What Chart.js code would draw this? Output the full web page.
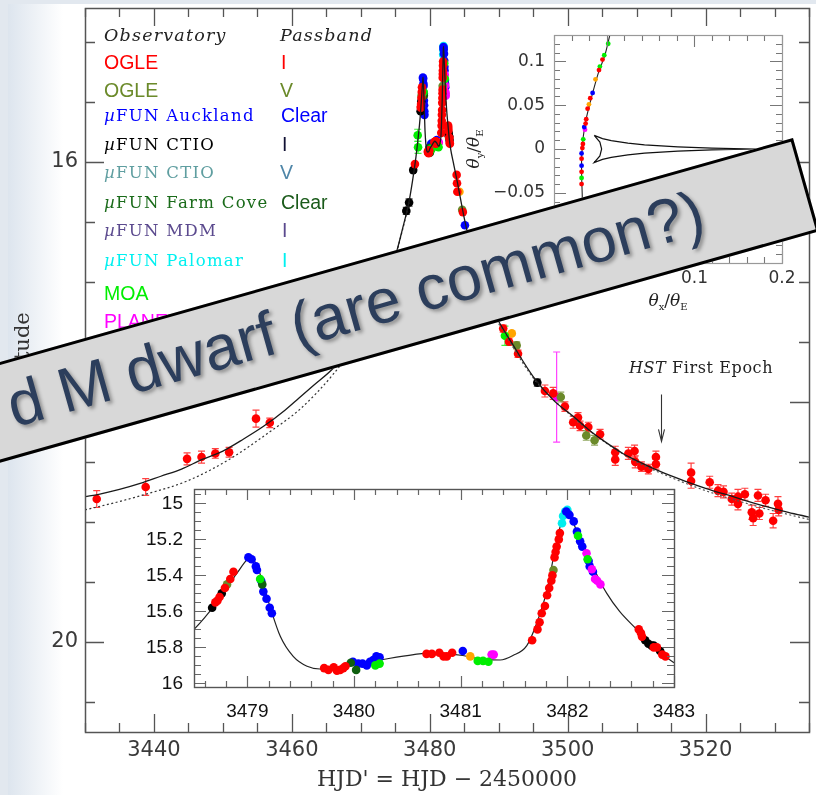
<!DOCTYPE html>
<html>
<head>
<meta charset="utf-8">
<script src="https://cdn.jsdelivr.net/npm/chart.js"></script>
<style>
html,body{margin:0;padding:0;width:816px;height:795px;overflow:hidden;background:#e2e8ef;}
#page{position:absolute;left:8px;top:4px;width:808px;height:791px;background:linear-gradient(to right,#dde5ee 0px,#ffffff 55px);}
canvas{position:absolute;}
#cMain{left:0;top:0;}
#cInset{left:110px;top:480px;}
#cTraj{left:460px;top:20px;}
.t{position:absolute;white-space:nowrap;line-height:1;transform:translateY(-50%);}
.hd{font-family:'DejaVu Serif';font-style:italic;font-size:17.5px;letter-spacing:1.2px;color:#222;}
.ser{font-family:'DejaVu Serif';font-size:16.5px;letter-spacing:1.3px;}
.sans{font-family:'Liberation Sans';font-size:19.5px;}
.ann{font-family:'DejaVu Serif';font-size:16px;letter-spacing:0.6px;color:#222;}
.th{font-family:'DejaVu Serif';font-size:17px;color:#222;}
.th sub{font-size:10px;font-style:normal;}
#banner{position:absolute;left:-307px;top:138px;width:1100px;height:97px;box-sizing:border-box;border:3.5px solid #000;background:#d8d8d8;transform-origin:100% 0;transform:rotate(-15.77deg);font-family:'Liberation Sans';font-size:63px;line-height:63px;padding:11px 104px 0 0;text-align:right;color:#2c3e5c;text-shadow:2px 3px 4px rgba(0,0,0,0.35);white-space:nowrap;overflow:hidden;}
</style>
</head>
<body>
<div id="page"></div>
<canvas id="cMain" width="816" height="795"></canvas>
<canvas id="cInset" width="600" height="250"></canvas>
<canvas id="cTraj" width="340" height="300"></canvas>

<div class="t hd" style="left:104px;top:36px">Observatory</div>
<div class="t hd" style="left:280px;top:36px">Passband</div>
<div class="t sans" style="left:104px;top:63px;color:#ff0000">OGLE</div>
<div class="t sans" style="left:281px;top:63px;color:#ff0000">I</div>
<div class="t sans" style="left:104px;top:91px;color:#6b8a2a">OGLE</div>
<div class="t sans" style="left:280px;top:91px;color:#6b8a2a">V</div>
<div class="t ser" style="left:104px;top:116px;color:#0000ff"><i>µ</i>FUN Auckland</div>
<div class="t sans" style="left:281px;top:116px;color:#0000ff">Clear</div>
<div class="t ser" style="left:104px;top:145px;color:#000000"><i>µ</i>FUN CTIO</div>
<div class="t sans" style="left:282px;top:145px;color:#111133">I</div>
<div class="t ser" style="left:104px;top:173px;color:#5f9ea0"><i>µ</i>FUN CTIO</div>
<div class="t sans" style="left:280px;top:173px;color:#4f86a8">V</div>
<div class="t ser" style="left:104px;top:203px;color:#1a6b1a"><i>µ</i>FUN Farm Cove</div>
<div class="t sans" style="left:281px;top:203px;color:#1a5a1a">Clear</div>
<div class="t ser" style="left:104px;top:231px;color:#5b4a8e"><i>µ</i>FUN MDM</div>
<div class="t sans" style="left:282px;top:231px;color:#5b4a8e">I</div>
<div class="t ser" style="left:104px;top:261px;color:#00f0f0"><i>µ</i>FUN Palomar</div>
<div class="t sans" style="left:282px;top:261px;color:#00f0f0">I</div>
<div class="t sans" style="left:104px;top:294px;color:#00ee00">MOA</div>
<div class="t sans" style="left:104px;top:322px;color:#ff00ff">PLANET</div>

<div class="t ann" style="left:629px;top:368px"><i>HST</i> First Epoch</div>
<div class="t th" style="left:668px;top:302px;transform:translate(-50%,-50%)"><i>θ</i><sub>x</sub>/<i>θ</i><sub>E</sub></div>
<div class="t th" style="left:475px;top:149px;transform:translate(-50%,-50%) rotate(-90deg)"><i>θ</i><sub>y</sub>/<i>θ</i><sub>E</sub></div>

<div id="banner">d M dwarf (are common?)</div>

<script>
// ---------- tick labels ----------
const mainXTicks = [3440, 3460, 3480, 3500, 3520];
const mainYTicks = [16, 18, 20];
const insetXTicks = [3479, 3480, 3481, 3482, 3483];
const insetYTicks = [15, 15.2, 15.4, 15.6, 15.8, 16];
const trajXTicks = [0, 0.1, 0.2];
const trajYTicks = [-0.1, -0.05, 0, 0.05, 0.1];

// ---------- model light curve ----------
const modelT = [3430,3432,3435,3438,3441,3444,3447,3450,3453,3456,3459,3461,3463,3466,3468,3470,3472,3474,3475,3476,3477,3477.5,3478,3478.5,3478.6,3478.7,3478.8,3478.9,3479.0,3479.03,3479.1,3479.2,3479.31,3479.43,3479.56,3479.68,3479.87,3479.99,3480.24,3480.56,3480.74,3481.02,3481.2,3481.37,3481.49,3481.62,3481.71,3481.81,3481.88,3481.95,3481.99,3482.09,3482.18,3482.28,3482.37,3482.49,3482.65,3482.81,3483.0,3483.5,3484,3485,3486,3487,3488,3489,3490.2,3492,3495,3498,3500.8,3503,3505.6,3508,3510,3513.4,3517,3520,3524,3528,3532,3535];
const modelMag = [18.79,18.77,18.73,18.68,18.62,18.56,18.48,18.41,18.31,18.2,18.07,17.97,17.87,17.72,17.58,17.41,17.2,16.95,16.79,16.57,16.33,16.16,15.96,15.70,15.635,15.56,15.475,15.39,15.31,15.295,15.36,15.55,15.74,15.85,15.905,15.92,15.915,15.895,15.87,15.84,15.83,15.845,15.865,15.87,15.845,15.79,15.67,15.48,15.27,15.09,15.04,15.155,15.27,15.40,15.50,15.60,15.70,15.80,15.885,16.03,16.17,16.47,16.72,16.92,17.08,17.22,17.35,17.52,17.79,17.99,18.12,18.23,18.34,18.43,18.49,18.58,18.66,18.72,18.79,18.86,18.92,18.96];
const altT1 = [3430,3435,3438.8,3444.8,3450.9,3456.8,3461.2,3466,3470,3474,3476,3477];
const altMag1 = [18.90,18.83,18.77,18.66,18.48,18.25,18.06,17.77,17.45,16.98,16.58,16.34];
const altT2 = [3490,3495,3500,3505,3510,3515,3520,3525,3530,3535];
const altMag2 = [17.35,17.80,18.09,18.32,18.50,18.63,18.74,18.83,18.91,18.98];

// ---------- photometry [HJD', mag, (err)] ----------
const ogleIPeak = [[3478.70,15.55],[3478.72,15.54],[3478.74,15.52],[3478.79,15.47],[3478.84,15.42],[3478.87,15.38],
 [3479.72,15.915],[3479.76,15.925],[3479.81,15.91],[3479.84,15.93],[3479.87,15.925],[3479.90,15.915],[3479.92,15.905],
 [3480.68,15.836],[3480.73,15.836],[3480.80,15.83],[3480.84,15.85],[3480.87,15.85],[3480.92,15.83],
 [3481.67,15.76],[3481.72,15.70],[3481.74,15.66],[3481.76,15.61],[3481.79,15.57],[3481.81,15.51],[3481.83,15.47],[3481.85,15.43],[3481.86,15.40],[3481.88,15.30],[3481.89,15.27],[3481.90,15.24],[3481.92,15.20],[3481.93,15.165],
 [3482.67,15.70],[3482.69,15.72],[3482.70,15.74],[3482.81,15.80],[3482.84,15.80],[3482.89,15.84],[3482.92,15.85]];
const ogleIWing = [[3431.7,18.81,0.07],[3438.8,18.71,0.07],[3444.8,18.475,0.05],[3446.9,18.46,0.05],[3448.9,18.43,0.04],[3450.9,18.42,0.04],[3454.8,18.14,0.07],[3456.8,18.175,0.04],
 [3477.85,16.02,0],[3483.9,16.11,0],[3483.95,16.18,0],[3484.0,16.25,0],[3484.8,16.42,0],
 [3490.65,17.39,0.03],[3491.5,17.5,0.03],[3492.8,17.6,0.03],[3496.7,17.91,0.05],[3497.9,17.93,0.05],[3499.6,18.04,0.04],[3500.8,18.17,0.05],[3501.5,18.13,0.04],[3501.8,18.2,0.04],[3503.0,18.21,0.04],[3504.7,18.27,0.04],
 [3506.9,18.42,0.05],[3506.9,18.48,0.05],[3508.8,18.43,0.05],[3509.7,18.41,0.05],[3509.8,18.5,0.05],[3510.7,18.54,0.04],[3511.7,18.56,0.04],[3512.8,18.46,0.05],[3512.8,18.52,0.04],
 [3517.9,18.59,0.08],[3517.9,18.66,0.06],[3520.6,18.67,0.05],[3521.8,18.74,0.05],[3522.6,18.75,0.05],[3523.8,18.81,0.05],[3524.7,18.79,0.06],[3524.7,18.85,0.05],[3525.7,18.77,0.05],
 [3526.7,18.92,0.06],[3526.9,18.97,0.06],[3527.6,18.78,0.05],[3527.8,18.93,0.05],[3528.7,18.82,0.05],[3529.8,18.99,0.06],[3530.5,18.85,0.06],[3530.6,18.9,0.05]];
const ogleV = [[3478.81,15.45],[3481.87,15.37],[3484.7,16.4,0],[3492.6,17.53,0.03],[3499.0,17.96,0.04],[3502.7,18.28,0.04],[3503.9,18.32,0.04]];
const auckland = [[3479.01,15.30],[3479.04,15.31],[3479.08,15.35],[3479.09,15.37],[3479.13,15.43],[3479.15,15.49],[3479.18,15.53],[3479.21,15.58],[3479.23,15.61],
 [3479.99,15.88],[3480.04,15.89],[3480.08,15.89],[3480.12,15.90],[3480.15,15.88],[3480.18,15.87],[3480.21,15.85],[3480.24,15.855],[3481.02,15.82],
 [3481.99,15.045],[3482.02,15.064],[3482.06,15.10],[3482.09,15.157],[3482.12,15.21],[3482.14,15.24],[3482.20,15.32],[3482.21,15.35],[3482.24,15.38],[3485.1,16.53,0]];
const ctioI = [[3478.67,15.58],[3478.76,15.50],[3482.73,15.76],[3482.76,15.78],[3482.79,15.79],[3482.81,15.79],[3482.87,15.82],
 [3476.6,16.41,0.03],[3477.0,16.34,0.03],[3477.6,16.07,0.02],[3495.6,17.84,0.03]];
const farmCove = [[3479.14,15.45],[3479.97,15.885],[3480.02,15.925]];
const palomar = [[3481.95,15.11],[3481.96,15.07],[3481.98,15.045],[3482.0,15.036]];
const moa = [[3479.12,15.42],[3480.20,15.90],[3480.24,15.89],[3481.16,15.875],[3481.21,15.875],[3481.26,15.88],[3482.10,15.18],[3482.19,15.31],
 [3478.25,15.78,0.05],[3478.3,15.88,0.05],[3490.9,17.45,0.08]];
const planet = [[3481.29,15.84],[3481.31,15.84],[3482.18,15.277],[3482.23,15.366],[3482.26,15.42],[3482.28,15.43],[3482.31,15.45],[3498.4,17.96,0.375]];
const otherObs = [[3481.09,15.85],[3484.3,16.25,0],[3491.9,17.43,0]];

// ---------- source trajectory & caustic (theta/thetaE) ----------
const trajX = [0.006,0.0034,-0.0023,-0.0099,-0.0174,-0.0231,-0.027,-0.0288,-0.0288,-0.0282,-0.0275,-0.026];
const trajY = [0.14,0.13,0.107,0.0863,0.0596,0.0368,0.014,-0.0088,-0.0316,-0.0505,-0.08,-0.13];
const causticX = [-0.0145,-0.005,0.005,0.024,0.043,0.081,0.12,0.17,0.12,0.081,0.043,0.024,0.005,-0.005,-0.0145,-0.008,-0.006,-0.008,-0.0145];
const causticY = [0.0155,0.0118,0.0095,0.0068,0.0047,0.0024,0.0009,0,-0.0009,-0.0024,-0.0047,-0.0068,-0.0095,-0.0118,-0.0155,-0.008,0,0.008,0.0155];
const trajOgleI = [[-0.005,0.102],[-0.009,0.09],[-0.019,0.058],[-0.022,0.046],[-0.0236,0.034],[-0.0243,0.029],[-0.0274,0.0057],[-0.028,0.001],[-0.0289,-0.011],[-0.0289,-0.026],[-0.0289,-0.04]];
const trajMOA = [[0.0015,0.12],[-0.003,0.107],[-0.008,0.094],[-0.027,0.011],[-0.0289,-0.033]];
const trajAuck = [[-0.0163,0.064],[-0.0259,0.025],[-0.0289,-0.005],[-0.0289,-0.019]];
const trajOther = [[-0.013,0.0795],[-0.0205,0.051]];
const trajPlanet = [[-0.025,0.022]];

const hstArrow = {t: 3513.6, from: 17.94, to: 18.33};

// ---------- helpers ----------
const pts = a => a.map(p => ({x: p[0], y: p[1]}));
const errs = a => a.map(p => p[2] || 0);
const zip = (xs, ys) => xs.map((x, i) => ({x: x, y: ys[i]}));
function stepValues(min, max, step) {
  const out = [];
  for (let k = Math.ceil(min / step - 1e-9); k * step <= max + 1e-9; k++) out.push(+(k * step).toFixed(10));
  return out;
}
const fmtMinus = v => (v < 0 ? '\u2212' + String(+(-v).toFixed(4)) : String(+v.toFixed(4)));

const framePlugin = {
  id: 'frame',
  beforeDraw(chart, args, o) {
    if (!o || !o.fill) return;
    const a = chart.chartArea, c = chart.ctx;
    c.save(); c.fillStyle = o.fill; c.fillRect(a.left, a.top, a.right - a.left, a.bottom - a.top); c.restore();
  },
  afterDraw(chart, args, o) {
    const a = chart.chartArea, c = chart.ctx, xs = chart.scales.x, ys = chart.scales.y;
    c.save();
    c.strokeStyle = o.tickColor; c.lineWidth = o.tickWidth;
    const draw = (scale, tk, horiz) => {
      stepValues(scale.min, scale.max, tk.minor).forEach(v => {
        const major = Math.abs(v / tk.major - Math.round(v / tk.major)) < 1e-6;
        const len = major ? tk.majorLen : tk.minorLen;
        const p = Math.round(scale.getPixelForValue(v)) + 0.5;
        c.beginPath();
        if (horiz) { c.moveTo(p, a.bottom); c.lineTo(p, a.bottom - len); c.moveTo(p, a.top); c.lineTo(p, a.top + len); }
        else { c.moveTo(a.left, p); c.lineTo(a.left + len, p); c.moveTo(a.right, p); c.lineTo(a.right - len, p); }
        c.stroke();
      });
    };
    draw(xs, o.x, true); draw(ys, o.y, false);
    c.strokeStyle = o.frameColor; c.lineWidth = o.frameWidth;
    c.strokeRect(Math.round(a.left) + 0.5, Math.round(a.top) + 0.5, Math.round(a.right - a.left), Math.round(a.bottom - a.top));
    c.restore();
  }
};

const errPlugin = {
  id: 'errbars',
  beforeDatasetsDraw(chart) {
    const c = chart.ctx, xs = chart.scales.x, ys = chart.scales.y, a = chart.chartArea;
    c.save(); c.beginPath(); c.rect(a.left, a.top, a.right - a.left, a.bottom - a.top); c.clip();
    chart.data.datasets.forEach(ds => {
      if (!ds.errors) return;
      c.strokeStyle = ds.backgroundColor; c.globalAlpha = 0.75; c.lineWidth = 1.2;
      ds.data.forEach((p, i) => {
        const e = ds.errors[i]; if (!e) return;
        const x = xs.getPixelForValue(p.x), y1 = ys.getPixelForValue(p.y - e), y2 = ys.getPixelForValue(p.y + e);
        c.beginPath(); c.moveTo(x, y1); c.lineTo(x, y2);
        c.moveTo(x - 3.5, y1); c.lineTo(x + 3.5, y1); c.moveTo(x - 3.5, y2); c.lineTo(x + 3.5, y2);
        c.stroke();
      });
    });
    c.restore();
  }
};

const arrowPlugin = {
  id: 'hstArrow',
  afterDatasetsDraw(chart) {
    const c = chart.ctx, xs = chart.scales.x, ys = chart.scales.y;
    const x = Math.round(xs.getPixelForValue(hstArrow.t)) + 0.5, y1 = ys.getPixelForValue(hstArrow.from), y2 = ys.getPixelForValue(hstArrow.to);
    c.save(); c.strokeStyle = '#333'; c.lineWidth = 1.1;
    c.beginPath(); c.moveTo(x, y1); c.lineTo(x, y2); c.moveTo(x - 3, y2 - 12); c.lineTo(x, y2); c.lineTo(x + 3, y2 - 12); c.stroke();
    c.restore();
  }
};

const baseOpts = {responsive: false, animation: false, devicePixelRatio: 1, events: [],
  plugins: {legend: {display: false}, tooltip: {enabled: false}}};

function axis(o) {
  return {
    type: 'linear', min: o.min, max: o.max, reverse: !!o.reverse, position: o.pos,
    grid: {display: false, drawTicks: false}, border: {display: false},
    afterBuildTicks: s => { s.ticks = o.ticks.map(v => ({value: v})); },
    afterFit: s => { if (o.w !== undefined) s.width = o.w; if (o.h !== undefined) s.height = o.h;
      s.paddingTop = 0; s.paddingBottom = 0; s.paddingLeft = 0; s.paddingRight = 0; },
    ticks: {autoSkip: false, maxRotation: 0, minRotation: 0, padding: o.pad, color: o.color,
      font: {family: o.family, size: o.size}, callback: o.fmt || (v => String(v))},
    title: o.title || {display: false}
  };
}

const C = {ogleI: '#ff0000', ogleV: '#6b8a2a', auck: '#0000ff', ctio: '#000000', farm: '#0f5f0f', pal: '#00eeee', moa: '#00ee00', planet: '#ff00ff', other: '#ffa500'};
const series = [
  [ogleIPeak.concat(ogleIWing), C.ogleI], [ogleV, C.ogleV], [moa, C.moa], [ctioI, C.ctio], [farmCove, C.farm],
  [otherObs, C.other], [planet, C.planet], [auckland, C.auck], [palomar, C.pal]
];

// ---------- main chart ----------
const mainSets = series.map(s => ({data: pts(s[0]), errors: errs(s[0]), backgroundColor: s[1], borderWidth: 0, pointRadius: 4.3, order: 2}));
mainSets.push({data: zip(modelT, modelMag), showLine: true, pointRadius: 0, borderColor: '#1a1a1a', borderWidth: 1.3, cubicInterpolationMode: 'monotone', order: 0});
mainSets.push({data: zip(altT1, altMag1), showLine: true, pointRadius: 0, borderColor: '#333', borderWidth: 1.2, borderDash: [2, 2.5], cubicInterpolationMode: 'monotone', order: 1});
mainSets.push({data: zip(altT2, altMag2), showLine: true, pointRadius: 0, borderColor: '#555', borderWidth: 1.2, borderDash: [2, 2.5], cubicInterpolationMode: 'monotone', order: 1});

new Chart(document.getElementById('cMain'), {
  type: 'scatter',
  data: {datasets: mainSets},
  options: Object.assign({}, baseOpts, {
    layout: {padding: {top: 8, right: 7, left: 0, bottom: 0}},
    scales: {
      x: axis({min: 3430, max: 3535, pos: 'bottom', ticks: mainXTicks, h: 63, pad: 6, color: '#3a3a3a', family: "'DejaVu Sans'", size: 21,
        title: {display: true, text: "HJD' = HJD \u2212 2450000", color: '#333', font: {family: "'DejaVu Serif'", size: 22}, padding: {top: 0, bottom: 2}}}),
      y: axis({min: 14.72, max: 20.75, reverse: true, pos: 'left', ticks: mainYTicks, w: 85, pad: 7, color: '#3a3a3a', family: "'DejaVu Sans'", size: 21,
        title: {display: true, text: 'Magnitude', color: '#333', font: {family: "'DejaVu Serif'", size: 21}, padding: {top: 11, bottom: 0}}})
    },
    plugins: Object.assign({}, baseOpts.plugins, {frame: {tickColor: '#555', tickWidth: 1.3, frameColor: '#555', frameWidth: 1.5,
      x: {minor: 5, major: 20, minorLen: 9, majorLen: 18}, y: {minor: 0.5, major: 2, minorLen: 10, majorLen: 19}}})
  }),
  plugins: [framePlugin, errPlugin, arrowPlugin]
});

// ---------- zoom inset ----------
const insetSets = series.map(s => ({data: pts(s[0]), backgroundColor: s[1], borderWidth: 0, pointRadius: 4.3, order: 1}));
insetSets.push({data: zip(modelT, modelMag), showLine: true, pointRadius: 0, borderColor: '#222', borderWidth: 1.2, cubicInterpolationMode: 'monotone', order: 5});

new Chart(document.getElementById('cInset'), {
  type: 'scatter',
  data: {datasets: insetSets},
  options: Object.assign({}, baseOpts, {
    layout: {padding: {top: 9, right: 36, left: 0, bottom: 0}},
    scales: {
      x: axis({min: 3478.5, max: 3483, pos: 'bottom', ticks: insetXTicks, h: 43, pad: 13, color: '#111', family: "'Liberation Sans'", size: 19}),
      y: axis({min: 14.92, max: 16.02, reverse: true, pos: 'left', ticks: insetYTicks, w: 84, pad: 11, color: '#111', family: "'Liberation Sans'", size: 19})
    },
    plugins: Object.assign({}, baseOpts.plugins, {frame: {fill: '#ffffff', tickColor: '#666', tickWidth: 1.2, frameColor: '#555', frameWidth: 1.4,
      x: {minor: 0.2, major: 1, minorLen: 6, majorLen: 11}, y: {minor: 0.05, major: 0.2, minorLen: 7, majorLen: 12}}})
  }),
  plugins: [framePlugin]
});

// ---------- trajectory inset ----------
const trajSets = [
  {data: zip(causticX, causticY), showLine: true, pointRadius: 0, borderColor: '#111', borderWidth: 1.2, tension: 0, order: 6},
  {data: zip(trajX, trajY), showLine: true, pointRadius: 0, borderColor: '#222', borderWidth: 1.1, tension: 0.3, order: 5},
  {data: pts(trajOgleI), backgroundColor: C.ogleI, borderWidth: 0, pointRadius: 2.4, order: 1},
  {data: pts(trajMOA), backgroundColor: C.moa, borderWidth: 0, pointRadius: 2.4, order: 1},
  {data: pts(trajAuck), backgroundColor: C.auck, borderWidth: 0, pointRadius: 2.4, order: 1},
  {data: pts(trajOther), backgroundColor: C.other, borderWidth: 0, pointRadius: 2.4, order: 1},
  {data: pts(trajPlanet), backgroundColor: C.planet, borderWidth: 0, pointRadius: 2.4, order: 1}
];
new Chart(document.getElementById('cTraj'), {
  type: 'scatter',
  data: {datasets: trajSets},
  options: Object.assign({}, baseOpts, {
    layout: {padding: {top: 15, right: 18, left: 0, bottom: 0}},
    scales: {
      x: axis({min: -0.0604, max: 0.2, pos: 'bottom', ticks: trajXTicks, h: 57, pad: 5, color: '#333', family: "'DejaVu Sans'", size: 17, fmt: fmtMinus}),
      y: axis({min: -0.13, max: 0.13, pos: 'left', ticks: trajYTicks, w: 94, pad: 9, color: '#333', family: "'DejaVu Sans'", size: 17, fmt: fmtMinus})
    },
    plugins: Object.assign({}, baseOpts.plugins, {frame: {fill: '#ffffff', tickColor: '#777', tickWidth: 1.1, frameColor: '#999', frameWidth: 1.2,
      x: {minor: 0.02, major: 0.1, minorLen: 6, majorLen: 12}, y: {minor: 0.01, major: 0.05, minorLen: 6, majorLen: 12}}})
  }),
  plugins: [framePlugin]
});
</script>
</body>
</html>
